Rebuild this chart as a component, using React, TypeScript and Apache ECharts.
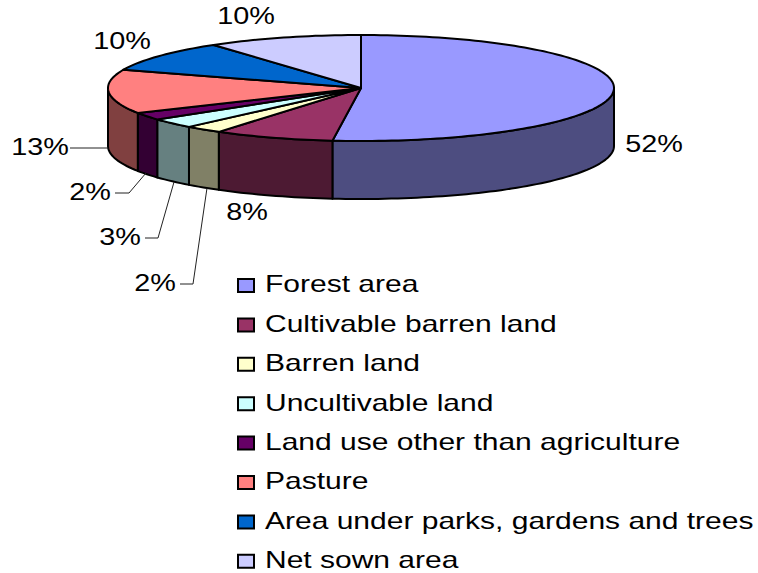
import React, { useEffect, useRef } from "react";
import * as echarts from "echarts";

const categories = [
  "Forest area",
  "Cultivable barren land",
  "Barren land",
  "Uncultivable land",
  "Land use other than agriculture",
  "Pasture",
  "Area under parks, gardens and trees",
  "Net sown area",
];
const shares = [51.8, 7.7, 2.4, 3.0, 2.3, 13.4, 9.5, 9.9];

const topColors = ["#9999FF", "#993366", "#FFFFCC", "#CCFFFF", "#660066", "#FF8080", "#0066CC", "#CCCCFF"];
const wallColors = ["#4D4D80", "#4D1A33", "#808066", "#668080", "#330033", "#804040", "#003366", "#666680"];

// layout of the tilted pie
const CX = 361, CY = 88, RX = 253, RY = 53, DEPTH = 58;
const FONT = '24px "Liberation Sans", Arial, sans-serif';
const LABEL_STRETCH = 1.2;
const LEGEND_STRETCH = 1.25;
const labelPositions = [[654, 144], [247, 212], [155, 283], [120, 237], [90, 192], [40, 147], [122, 41], [246, 16]];
const leaderLines: (number[][] | null)[] = [
  null, null,
  [[207, 188], [193, 284], [180, 284]],
  [[174, 182], [158, 238], [145, 238]],
  [[146, 173], [129, 193], [115, 193]],
  [[108, 148], [70, 148]],
  null, null,
];
const LEGEND_ICON_X = 238, LEGEND_ICON_W = 16, LEGEND_ICON_H = 13, LEGEND_TEXT_X = 265;
const LEGEND_CENTER_Y = 284, LEGEND_STEP = 39.4;

const total = shares.reduce((a, b) => a + b, 0);
const starts = shares.map((_, i) => shares.slice(0, i).reduce((a, b) => a + b, 0));

function rimPoint(deg: number, dy = 0): number[] {
  const t = (deg * Math.PI) / 180;
  return [CX + RX * Math.sin(t), CY - RY * Math.cos(t) + dy];
}
function arc(from: number, to: number, dy = 0): number[][] {
  const n = Math.max(2, Math.ceil(Math.abs(to - from) / 1.5));
  const pts: number[][] = [];
  for (let k = 0; k <= n; k++) pts.push(rimPoint(from + ((to - from) * k) / n, dy));
  return pts;
}

function makeRender(i: number) {
  return (_p: any, api: any) => {
    const value = api.value(0) as number;
    const a = (starts[i] / total) * 360;
    const b = a + (value / total) * 360;
    const children: any[] = [];
    const w0 = Math.max(a, 90);
    const w1 = Math.min(b, 270);
    if (w1 > w0) {
      children.push({
        type: "polygon",
        shape: { points: [...arc(w0, w1), ...arc(w1, w0, DEPTH)] },
        style: { fill: wallColors[i], stroke: "#000", lineWidth: 2, lineJoin: "round" },
      });
    }
    children.push({
      type: "polygon",
      shape: { points: [[CX, CY], ...arc(a, b)] },
      style: { fill: topColors[i], stroke: "#000", lineWidth: 2, lineJoin: "round" },
    });
    const leader = leaderLines[i];
    if (leader) {
      children.push({
        type: "polyline",
        shape: { points: leader },
        style: { fill: "none", stroke: "#222", lineWidth: 1 },
      });
    }
    const [lx, ly] = labelPositions[i];
    children.push({
      type: "text",
      x: lx,
      y: ly,
      scaleX: LABEL_STRETCH,
      style: {
        text: `${Math.round(value)}%`,
        font: FONT,
        fill: "#000",
        align: "center",
        verticalAlign: "middle",
      },
    });
    return { type: "group", children };
  };
}

const legendGraphics = categories.flatMap((name, i) => {
  const mid = LEGEND_CENTER_Y + i * LEGEND_STEP;
  return [
    {
      type: "rect",
      shape: { x: LEGEND_ICON_X, y: mid - 5, width: LEGEND_ICON_W, height: LEGEND_ICON_H },
      style: { fill: topColors[i], stroke: "#000", lineWidth: 2 },
    },
    {
      type: "text",
      x: LEGEND_TEXT_X,
      y: mid,
      scaleX: LEGEND_STRETCH,
      style: { text: name, font: FONT, fill: "#000", align: "left", verticalAlign: "middle" },
    },
  ];
});

export default function App() {
  const ref = useRef<HTMLDivElement>(null);
  useEffect(() => {
    document.body.style.margin = "0";
    const chart = echarts.init(ref.current!, null, { renderer: "svg" });
    chart.setOption({
      animation: false,
      backgroundColor: "#fff",
      graphic: { elements: legendGraphics },
      series: categories.map((name, i) => ({
        type: "custom",
        name,
        coordinateSystem: "none",
        renderItem: makeRender(i),
        itemStyle: { color: topColors[i] },
        data: [[shares[i]]],
        silent: true,
      })),
    });
    return () => chart.dispose();
  }, []);
  return <div ref={ref} style={{ position: "fixed", left: 0, top: 0, width: 758, height: 573 }} />;
}
